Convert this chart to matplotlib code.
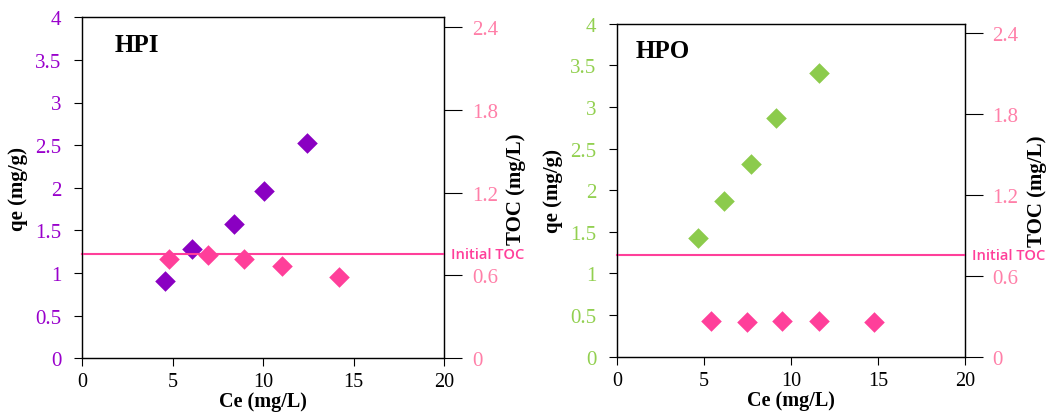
import matplotlib.pyplot as plt

# HPI panel
hpi_ce_qe = [4.58, 6.08, 8.38, 10.04, 12.43]
hpi_qe = [0.91, 1.28, 1.58, 1.96, 2.53]
hpi_ce_toc = [4.82, 6.98, 8.97, 11.05, 14.19]
hpi_toc = [0.72, 0.75, 0.72, 0.67, 0.59]

# HPO panel
hpo_ce_qe = [4.64, 6.16, 7.73, 9.17, 11.6]
hpo_qe = [1.43, 1.87, 2.31, 2.87, 3.41]
hpo_ce_toc = [5.43, 7.5, 9.5, 11.6, 14.79]
hpo_toc = [0.267, 0.255, 0.267, 0.267, 0.255]

initial_toc = 0.755

qe_ticks = [0, 0.5, 1, 1.5, 2, 2.5, 3, 3.5, 4]
toc_ticks = [0, 0.6, 1.2, 1.8, 2.4]
ce_ticks = [0, 5, 10, 15, 20]

pink = '#FF3F9A'
pink_lbl = '#FF7FA8'
serif = 'Liberation Serif'

fig = plt.figure(figsize=(10.57, 4.14), dpi=100)


def panel(rect, title, tx, ce, qe, ce2, toc, mcolor, lblcolor):
    ax = fig.add_axes(rect)
    ax.scatter(ce, qe, marker='D', s=110, color=mcolor, zorder=3, linewidths=0)
    ax.set_xlim(0, 20)
    ax.set_ylim(0, 4)
    ax.set_xticks(ce_ticks)
    ax.set_yticks(qe_ticks)
    ax.set_yticklabels([f'{t:g}' for t in qe_ticks])
    ax.tick_params(axis='y', direction='out', length=6, pad=9,
                   labelsize=15, labelcolor=lblcolor)
    ax.tick_params(axis='x', direction='out', length=6, pad=4, labelsize=14.5)
    for lab in ax.get_xticklabels() + ax.get_yticklabels():
        lab.set_fontfamily(serif)
    ax.set_xlabel('Ce (mg/L)', fontfamily=serif, fontweight='bold',
                  fontsize=14.5, labelpad=0)
    ax.set_ylabel('qe (mg/g)', fontfamily=serif, fontweight='bold',
                  fontsize=15, labelpad=5)
    for sp in ax.spines.values():
        sp.set_linewidth(1.0)
        sp.set_color('#222222')
    ax.text(tx, 0.92, title, transform=ax.transAxes, fontfamily=serif,
            fontweight='bold', fontsize=18, va='center', ha='left')

    ax2 = ax.twinx()
    ax2.scatter(ce2, toc, marker='D', s=110, color=pink, zorder=3, linewidths=0)
    ax2.axhline(initial_toc, color=pink, lw=1.5, clip_on=False)
    ax2.set_ylim(0, 2.47)
    ax2.set_yticks(toc_ticks)
    ax2.set_yticklabels([f'{t:g}' for t in toc_ticks])
    ax2.tick_params(axis='y', direction='out', length=13, pad=7,
                    labelsize=15, labelcolor=pink_lbl)
    for lab in ax2.get_yticklabels():
        lab.set_fontfamily(serif)
    ax2.set_ylabel('TOC (mg/L)', fontfamily=serif, fontweight='bold',
                   fontsize=15, labelpad=6)
    ax2.text(1.02, initial_toc, 'Initial TOC', transform=ax2.get_yaxis_transform(),
             color=pink, fontfamily='Open Sans', fontweight='semibold',
             fontsize=10.5, va='center', ha='left')
    return ax, ax2


panel([0.0776, 0.132, 0.3425, 0.824], 'HPI', 0.09, hpi_ce_qe, hpi_qe,
      hpi_ce_toc, hpi_toc, '#8A00C2', '#9900CC')
panel([0.5837, 0.136, 0.329, 0.804], 'HPO', 0.055, hpo_ce_qe, hpo_qe,
      hpo_ce_toc, hpo_toc, '#8CCB4C', '#92D050')

fig.savefig('out.png', dpi=100)
